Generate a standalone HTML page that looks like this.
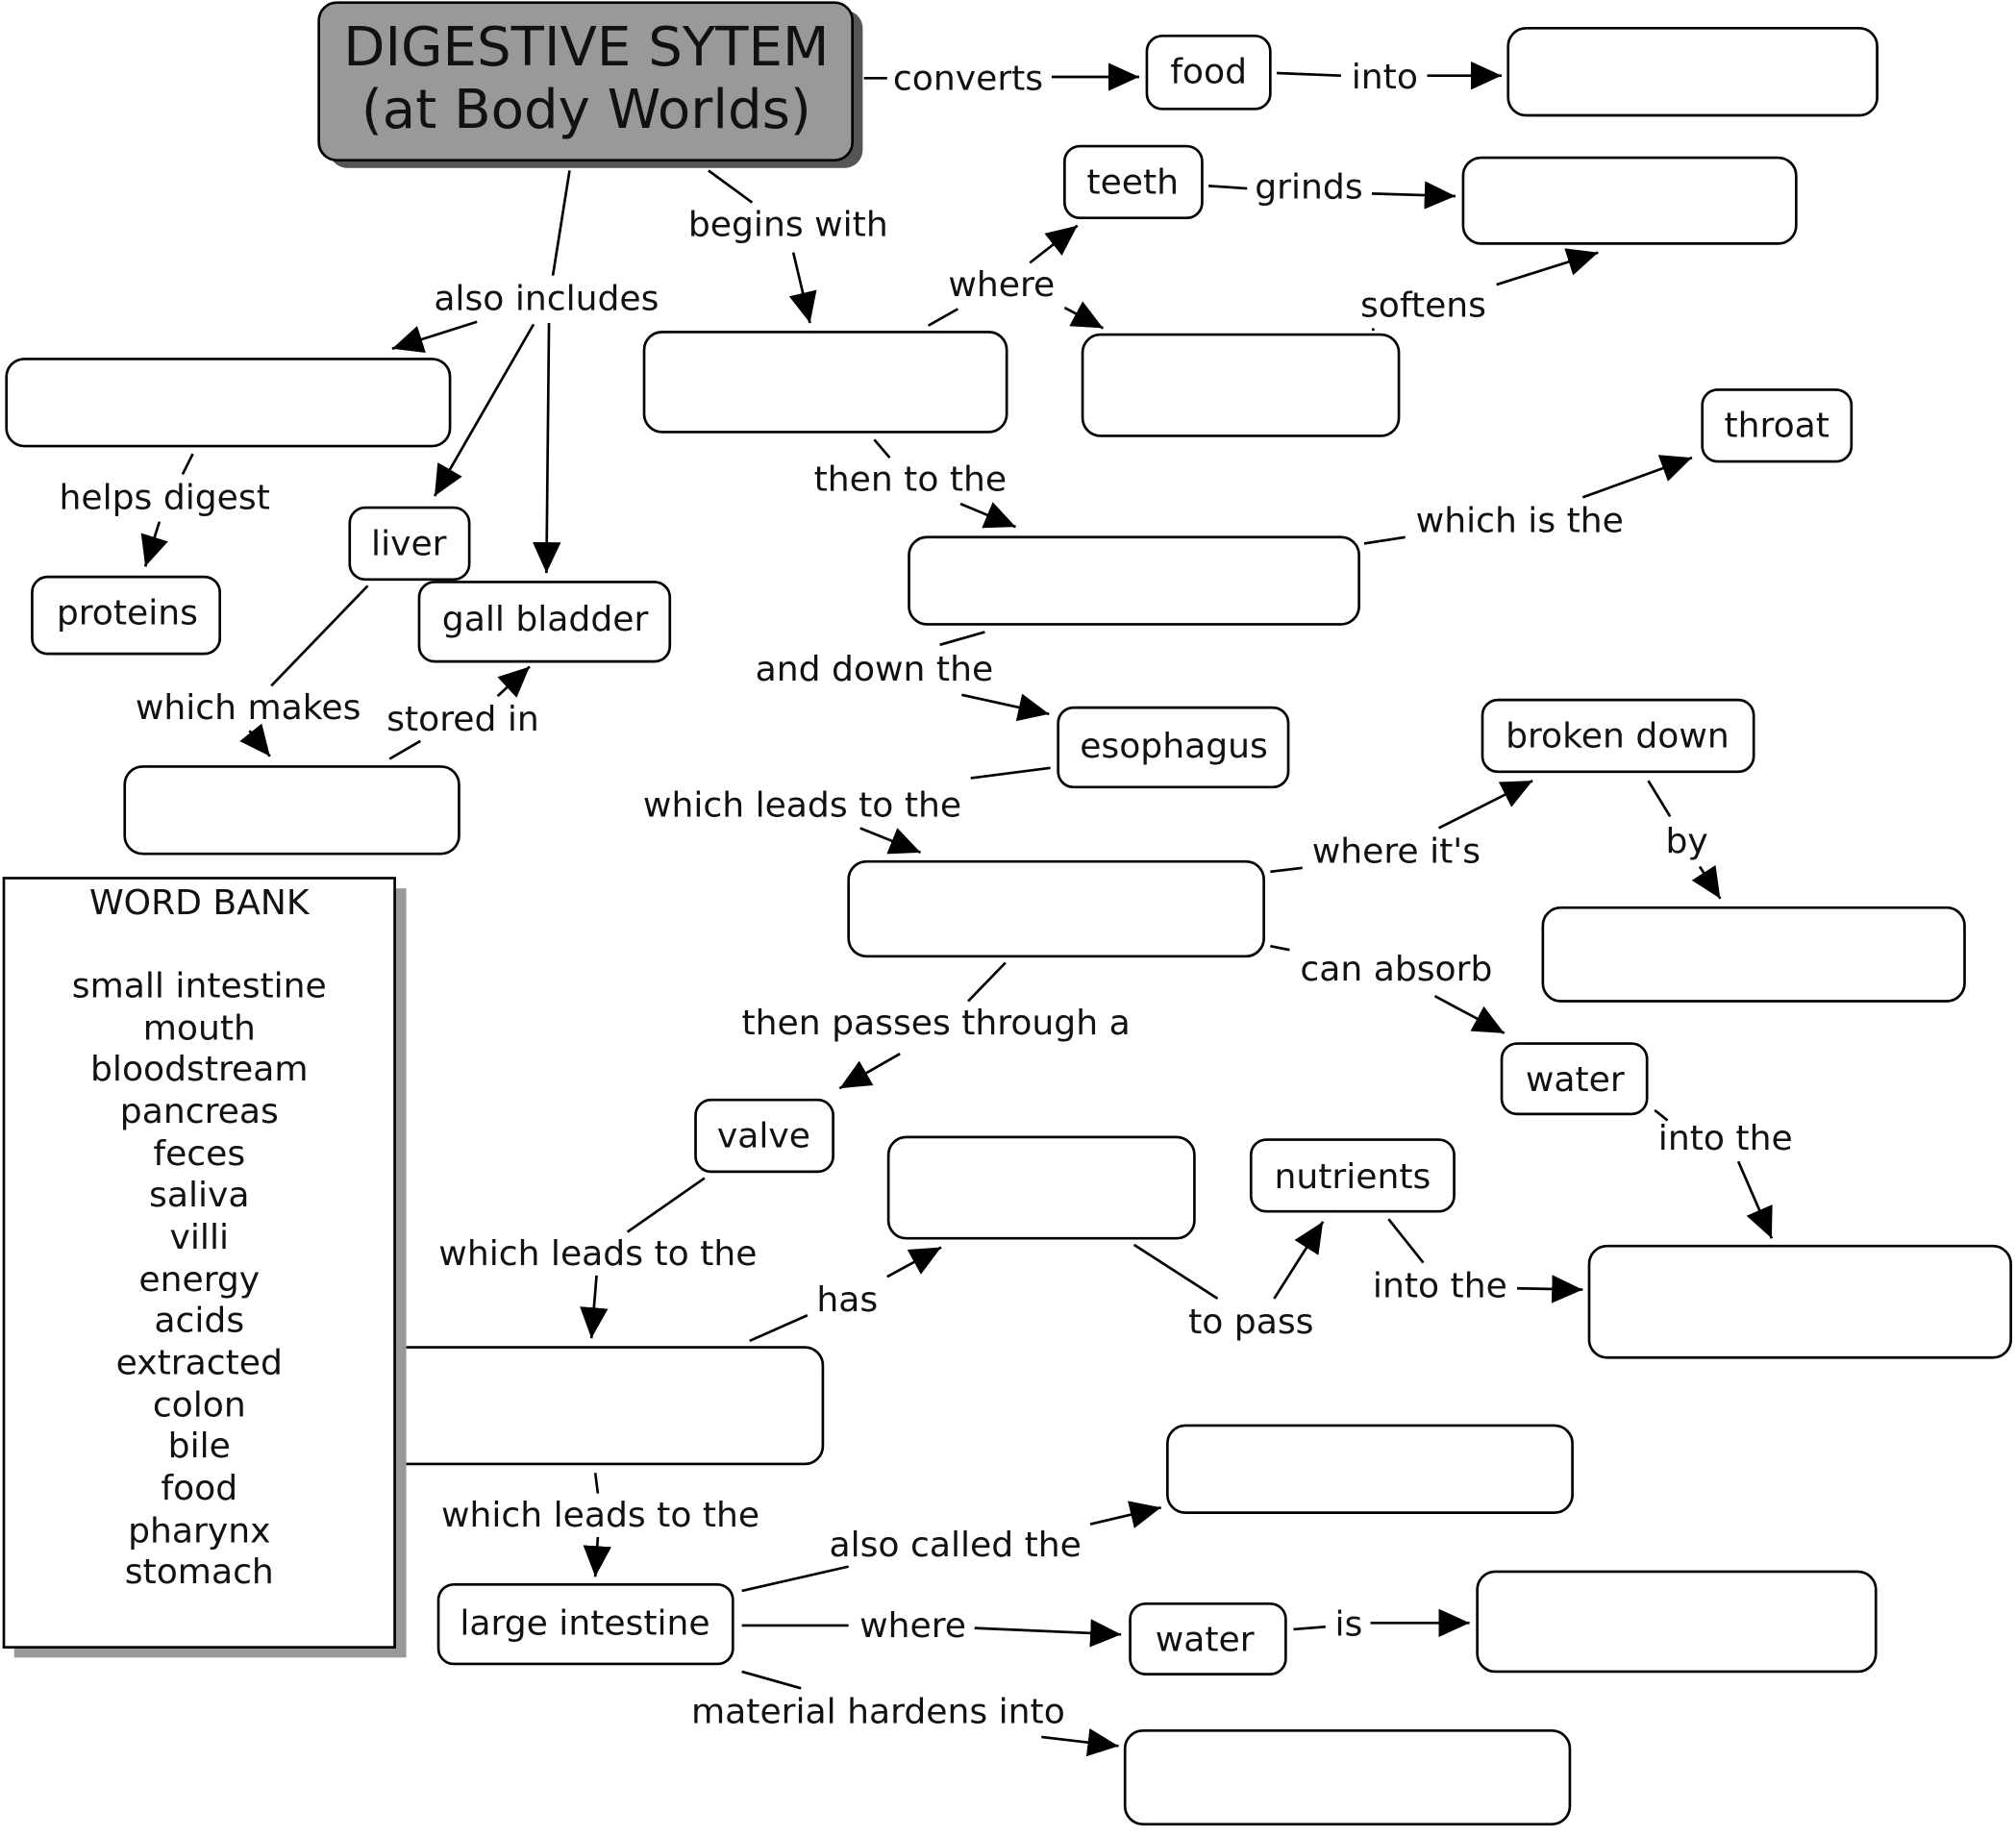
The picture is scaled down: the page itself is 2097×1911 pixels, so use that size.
<!DOCTYPE html>
<html><head><meta charset="utf-8"><style>
html,body{margin:0;padding:0;background:#fff;}
svg{display:block;}
text{font-family:"DejaVu Sans","Liberation Sans",sans-serif;font-size:27px;fill:#111;text-anchor:middle;dominant-baseline:central;}
.n{fill:#fff;stroke:#000;stroke-width:2;}
.l{stroke:#000;stroke-width:2;fill:none;}
</style></head><body>
<svg width="2097" height="1911" viewBox="0 0 1568 1433" preserveAspectRatio="none" xmlns="http://www.w3.org/2000/svg">
<defs>
<marker id="a" markerUnits="userSpaceOnUse" markerWidth="26" markerHeight="22" refX="24" refY="11" orient="auto">
<path d="M0,0 L24,11 L0,22 Z" fill="#000"/></marker>
</defs>
<rect x="256" y="8" width="415" height="123" rx="14" fill="#555"/>
<rect x="248" y="2" width="415" height="123" rx="14" fill="#999" stroke="#000" stroke-width="2"/>
<text x="456" y="37" style="font-size:42px">DIGESTIVE SYTEM</text>
<text x="456" y="86" style="font-size:42px">(at Body Worlds)</text>

<rect class="n" x="892" y="28" width="96" height="57" rx="12"/><text x="940" y="56">food</text>
<rect class="n" x="1173" y="22" width="287" height="68" rx="14"/>
<rect class="n" x="828" y="114" width="107" height="56" rx="12"/><text x="881" y="142">teeth</text>
<rect class="n" x="1138" y="123" width="259" height="67" rx="14"/>
<rect class="n" x="501" y="259" width="282" height="78" rx="14"/>
<rect class="n" x="842" y="261" width="246" height="79" rx="14"/>
<rect class="n" x="1324" y="304" width="116" height="56" rx="12"/><text x="1382" y="332">throat</text>
<rect class="n" x="5" y="280" width="345" height="68" rx="14"/>
<rect class="n" x="25" y="450" width="146" height="60" rx="12"/><text x="99" y="478">proteins</text>
<rect class="n" x="272" y="396" width="93" height="56" rx="12"/><text x="318" y="424">liver</text>
<rect class="n" x="326" y="454" width="195" height="62" rx="12"/><text x="424" y="483">gall bladder</text>
<rect class="n" x="707" y="419" width="350" height="68" rx="14"/>
<rect class="n" x="823" y="552" width="179" height="62" rx="12"/><text x="913" y="582">esophagus</text>
<rect class="n" x="97" y="598" width="260" height="68" rx="14"/>
<rect class="n" x="1153" y="546" width="211" height="56" rx="12"/><text x="1258" y="574">broken down</text>
<rect class="n" x="660" y="672" width="323" height="74" rx="14"/>
<rect class="n" x="1200" y="708" width="328" height="73" rx="14"/>
<rect class="n" x="1168" y="814" width="113" height="55" rx="12"/><text x="1225" y="842">water</text>
<rect class="n" x="541" y="858" width="107" height="56" rx="12"/><text x="594" y="886">valve</text>
<rect class="n" x="691" y="887" width="238" height="79" rx="14"/>
<rect class="n" x="973" y="889" width="158" height="56" rx="12"/><text x="1052" y="918">nutrients</text>
<rect class="n" x="1236" y="972" width="328" height="87" rx="14"/>
<rect class="n" x="290" y="1051" width="350" height="91" rx="14"/>
<rect class="n" x="908" y="1112" width="315" height="68" rx="14"/>
<rect class="n" x="341" y="1236" width="229" height="62" rx="12"/><text x="455" y="1266">large intestine</text>
<rect class="n" x="879" y="1251" width="121" height="55" rx="12"/><text x="937" y="1279">water</text>
<rect class="n" x="1149" y="1226" width="310" height="78" rx="14"/>
<rect class="n" x="875" y="1350" width="346" height="73" rx="14"/>

<rect x="11" y="693" width="305" height="600" fill="#999"/>
<rect x="3" y="685" width="304" height="600" fill="#fff" stroke="#000" stroke-width="2"/>
<text x="155" y="704">WORD BANK</text>
<text x="155" y="769">small intestine</text>
<text x="155" y="802">mouth</text>
<text x="155" y="834">bloodstream</text>
<text x="155" y="867">pancreas</text>
<text x="155" y="900">feces</text>
<text x="155" y="932">saliva</text>
<text x="155" y="965">villi</text>
<text x="155" y="998">energy</text>
<text x="155" y="1030">acids</text>
<text x="155" y="1063">extracted</text>
<text x="155" y="1096">colon</text>
<text x="155" y="1128">bile</text>
<text x="155" y="1161">food</text>
<text x="155" y="1194">pharynx</text>
<text x="155" y="1226">stomach</text>

<g class="l">
<line x1="672" y1="61" x2="690" y2="61"/><line x1="818" y1="60" x2="886" y2="60" marker-end="url(#a)"/>
<line x1="993" y1="57" x2="1043" y2="59"/><line x1="1110" y1="59" x2="1168" y2="59" marker-end="url(#a)"/>
<line x1="551" y1="133" x2="585" y2="158"/><line x1="617" y1="197" x2="630" y2="252" marker-end="url(#a)"/>
<line x1="722" y1="254" x2="745" y2="241"/><line x1="801" y1="205" x2="838" y2="176" marker-end="url(#a)"/>
<line x1="828" y1="240" x2="858" y2="256" marker-end="url(#a)"/>
<line x1="940" y1="145" x2="970" y2="147"/><line x1="1067" y1="151" x2="1132" y2="153" marker-end="url(#a)"/>
<line x1="1068" y1="256" x2="1068" y2="258"/><line x1="1164" y1="222" x2="1243" y2="197" marker-end="url(#a)"/>
<line x1="443" y1="133" x2="430" y2="215"/>
<line x1="371" y1="251" x2="305" y2="272" marker-end="url(#a)"/>
<line x1="415" y1="253" x2="338" y2="387" marker-end="url(#a)"/>
<line x1="427" y1="252" x2="425" y2="447" marker-end="url(#a)"/>
<line x1="150" y1="354" x2="142" y2="370"/><line x1="124" y1="407" x2="113" y2="442" marker-end="url(#a)"/>
<line x1="286" y1="457" x2="211" y2="535"/><line x1="194" y1="570" x2="210" y2="590" marker-end="url(#a)"/>
<line x1="303" y1="592" x2="327" y2="578"/><line x1="387" y1="543" x2="412" y2="520" marker-end="url(#a)"/>
<line x1="680" y1="343" x2="692" y2="357"/><line x1="747" y1="393" x2="790" y2="411" marker-end="url(#a)"/>
<line x1="1061" y1="424" x2="1093" y2="419"/><line x1="1231" y1="388" x2="1316" y2="357" marker-end="url(#a)"/>
<line x1="766" y1="493" x2="731" y2="503"/><line x1="748" y1="542" x2="816" y2="557" marker-end="url(#a)"/>
<line x1="817" y1="599" x2="755" y2="607"/><line x1="669" y1="646" x2="716" y2="665" marker-end="url(#a)"/>
<line x1="988" y1="680" x2="1013" y2="677"/><line x1="1119" y1="646" x2="1192" y2="609" marker-end="url(#a)"/>
<line x1="1282" y1="609" x2="1299" y2="637"/><line x1="1322" y1="676" x2="1338" y2="701" marker-end="url(#a)"/>
<line x1="988" y1="738" x2="1003" y2="741"/><line x1="1116" y1="777" x2="1170" y2="806" marker-end="url(#a)"/>
<line x1="1287" y1="866" x2="1297" y2="874"/><line x1="1352" y1="906" x2="1378" y2="966" marker-end="url(#a)"/>
<line x1="782" y1="751" x2="753" y2="781"/><line x1="700" y1="822" x2="653" y2="849" marker-end="url(#a)"/>
<line x1="548" y1="919" x2="488" y2="961"/><line x1="464" y1="995" x2="460" y2="1044" marker-end="url(#a)"/>
<line x1="583" y1="1046" x2="628" y2="1026"/><line x1="690" y1="996" x2="732" y2="973" marker-end="url(#a)"/>
<line x1="882" y1="971" x2="947" y2="1013"/><line x1="991" y1="1013" x2="1029" y2="953" marker-end="url(#a)"/>
<line x1="1080" y1="951" x2="1107" y2="985"/><line x1="1180" y1="1005" x2="1231" y2="1006" marker-end="url(#a)"/>
<line x1="463" y1="1149" x2="465" y2="1165"/><line x1="465" y1="1199" x2="463" y2="1230" marker-end="url(#a)"/>
<line x1="577" y1="1241" x2="660" y2="1222"/><line x1="848" y1="1189" x2="903" y2="1176" marker-end="url(#a)"/>
<line x1="577" y1="1268" x2="660" y2="1268"/><line x1="758" y1="1270" x2="872" y2="1275" marker-end="url(#a)"/>
<line x1="1006" y1="1271" x2="1031" y2="1269"/><line x1="1066" y1="1266" x2="1143" y2="1266" marker-end="url(#a)"/>
<line x1="577" y1="1304" x2="623" y2="1317"/><line x1="810" y1="1355" x2="870" y2="1362" marker-end="url(#a)"/>
</g>

<text x="753" y="61">converts</text>
<text x="1077" y="60">into</text>
<text x="613" y="175">begins with</text>
<text x="779" y="222">where</text>
<text x="1018" y="146">grinds</text>
<text x="1107" y="238">softens</text>
<text x="425" y="233">also includes</text>
<text x="128" y="388">helps digest</text>
<text x="193" y="552">which makes</text>
<text x="360" y="561">stored in</text>
<text x="708" y="374">then to the</text>
<text x="1182" y="406">which is the</text>
<text x="680" y="522">and down the</text>
<text x="624" y="628">which leads to the</text>
<text x="1086" y="664">where it's</text>
<text x="1312" y="656">by</text>
<text x="1086" y="756">can absorb</text>
<text x="1342" y="888">into the</text>
<text x="728" y="798">then passes through a</text>
<text x="465" y="978">which leads to the</text>
<text x="659" y="1014">has</text>
<text x="973" y="1031">to pass</text>
<text x="1120" y="1003">into the</text>
<text x="467" y="1182">which leads to the</text>
<text x="743" y="1205">also called the</text>
<text x="710" y="1268">where</text>
<text x="1049" y="1267">is</text>
<text x="683" y="1335">material hardens into</text>
</svg>
</body></html>
